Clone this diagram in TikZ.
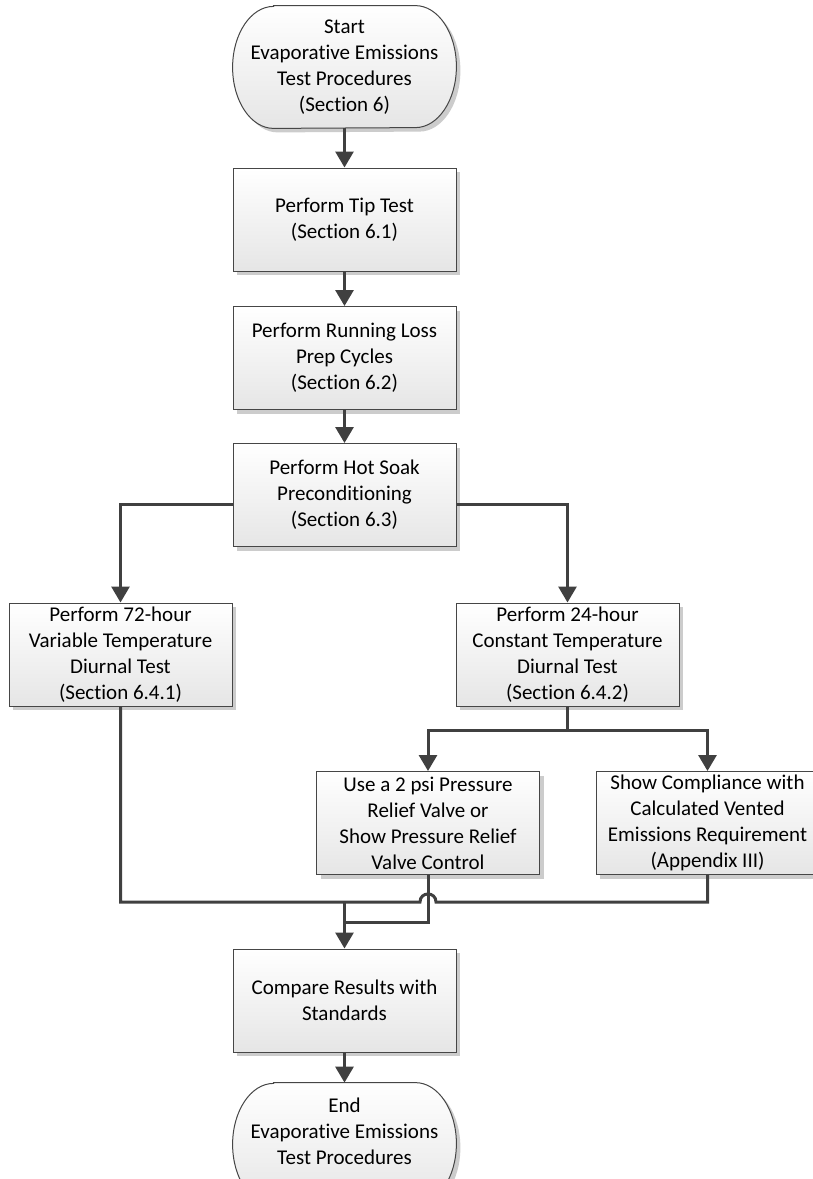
\documentclass[tikz,border=0pt]{standalone}
\usepackage{fontspec}
\setmainfont{Carlito}[Ligatures=NoCommon]
\usetikzlibrary{arrows.meta,shadows,backgrounds}
\definecolor{flowgray}{RGB}{64,64,64}
\definecolor{edgegray}{RGB}{70,70,70}

\tikzset{
  boxfont/.style={font=\fontsize{10.5}{13}\selectfont},
  shade box/.style={draw=edgegray, line width=0.5pt, top color=white, bottom color=black!10,
    drop shadow={shadow xshift=2pt, shadow yshift=-2pt, fill=black!20, opacity=1}},
  procbox/.style={shade box, boxfont, minimum width=111.5pt, minimum height=51.5pt,
    inner sep=0pt, align=center},
  termtext/.style={boxfont, minimum width=111.5pt, minimum height=61pt, inner sep=0pt, align=center},
  flow/.style={draw=flowgray, line width=1.5pt},
  flowarrow/.style={flow, -{Triangle[length=8pt,width=9pt]}},
}

\begin{document}
\begin{tikzpicture}[x=0.5pt,y=0.5pt]
\clip (0,-1179) rectangle (813,0);

% main column
\node[termtext] (start) at (344.5,-67) {Start\\Evaporative Emissions\\Test Procedures\\(Section 6)};
\node[procbox] (tip) at (344.5,-219.5) {Perform Tip Test\\(Section 6.1)};
\node[procbox] (run) at (344.5,-358) {Perform Running Loss\\Prep Cycles\\(Section 6.2)};
\node[procbox] (hot) at (344.5,-495) {Perform Hot Soak\\Preconditioning\\(Section 6.3)};

% diurnal tests
\node[procbox] (diu72) at (120.5,-654.5) {Perform 72-hour\\Variable Temperature\\Diurnal Test\\(Section 6.4.1)};
\node[procbox] (diu24) at (567.5,-654.5) {Perform 24-hour\\Constant Temperature\\Diurnal Test\\(Section 6.4.2)};
\node[procbox] (psi) at (428,-823) {Use a 2 psi Pressure\\Relief Valve or\\Show Pressure Relief\\Valve Control};
\node[procbox] (vent) at (707.5,-823) {Show Compliance with\\Calculated Vented\\Emissions Requirement\\(Appendix III)};

\node[procbox] (cmp) at (344.5,-1000.5) {Compare Results with\\Standards};
\node[termtext] (end) at (344.5,-1144) {End\\Evaporative Emissions\\Test Procedures\\\mbox{}};

% terminator outlines
\begin{scope}[on background layer]
\fill[white] (0,-1179) rectangle (813,0);
\draw[shade box] ([xshift=20.5pt]start.north west) -- ([xshift=-20.5pt]start.north east)
  arc[start angle=90, end angle=-90, x radius=20.5pt, y radius=30.5pt]
  -- ([xshift=20.5pt]start.south west)
  arc[start angle=270, end angle=90, x radius=20.5pt, y radius=30.5pt] -- cycle;
\draw[shade box] ([xshift=20.5pt]end.north west) -- ([xshift=-20.5pt]end.north east)
  arc[start angle=90, end angle=-90, x radius=20.5pt, y radius=30.5pt]
  -- ([xshift=20.5pt]end.south west)
  arc[start angle=270, end angle=90, x radius=20.5pt, y radius=30.5pt] -- cycle;
\end{scope}

% junctions
\coordinate (spl) at (567.5,-730);
\coordinate (mrg) at (344.5,-902);
\coordinate (hopl) at (420,-902);
\coordinate (hopr) at (436,-902);
\coordinate (jn) at (344.5,-922);

% connectors
\draw[flowarrow] (start) -- (tip);
\draw[flowarrow] (tip) -- (run);
\draw[flowarrow] (run) -- (hot);
\draw[flowarrow] ([yshift=-4.5pt]hot.west) -| (diu72.north);
\draw[flowarrow] ([yshift=-4.5pt]hot.east) -| (diu24.north);
\draw[flow] (diu24.south) -- (spl);
\draw[flowarrow] (spl) -| (psi.north);
\draw[flowarrow] (spl) -| (vent.north);
\draw[flow] (diu72.south) |- (hopl) .. controls +(0,10.7) and +(0,10.7) .. (hopr) -| (vent.south);
\draw[flow] (psi.south) |- (jn);
\draw[flowarrow] (mrg) -- (cmp.north);
\draw[flowarrow] (cmp) -- (end);
\end{tikzpicture}
\end{document}
